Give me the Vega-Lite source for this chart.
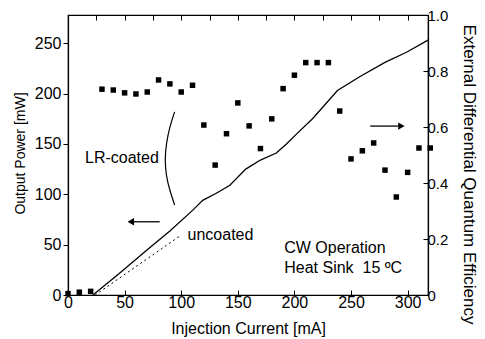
{
  "$schema": "https://vega.github.io/schema/vega-lite/v6.json",
  "width": 360,
  "height": 280,
  "autosize": {"type": "none"},
  "padding": {"left": 68, "top": 15, "right": 57, "bottom": 44},
  "background": "white",
  "config": {
    "font": "Liberation Sans",
    "view": {"stroke": "black", "strokeWidth": 1.2},
    "axis": {"domainColor": "black", "domainWidth": 1.2, "tickColor": "black", "labelColor": "black", "titleColor": "black", "grid": false, "titleFontWeight": "normal", "labelFont": "Liberation Sans", "titleFont": "Liberation Sans"}
  },
  "datasets": {
    "power": [
      {"mA": 22, "mW": 0}, {"mA": 45, "mW": 21}, {"mA": 70, "mW": 45}, {"mA": 90, "mW": 63.5},
      {"mA": 110, "mW": 84}, {"mA": 119, "mW": 94}, {"mA": 131, "mW": 101}, {"mA": 143, "mW": 109},
      {"mA": 157, "mW": 125}, {"mA": 170, "mW": 134}, {"mA": 184, "mW": 141}, {"mA": 193, "mW": 150},
      {"mA": 202, "mW": 160}, {"mA": 216, "mW": 175}, {"mA": 238, "mW": 203}, {"mA": 258, "mW": 217},
      {"mA": 280, "mW": 231}, {"mA": 299, "mW": 241}, {"mA": 318, "mW": 253}
    ],
    "uncoated": [{"mA": 24, "mW": 0}, {"mA": 100, "mW": 59.5}],
    "arc": [
      {"i": 0, "mA": 94.2, "mW": 181.8}, {"i": 1, "mA": 89.8, "mW": 167}, {"i": 2, "mA": 86.8, "mW": 150.5},
      {"i": 3, "mA": 85.5, "mW": 134}, {"i": 4, "mA": 86.8, "mW": 118}, {"i": 5, "mA": 89.8, "mW": 104.2},
      {"i": 6, "mA": 94.2, "mW": 89.3}
    ],
    "arrows": [
      {"seg": "left", "mA": 81, "mW": 72.7}, {"seg": "left", "mA": 56, "mW": 72.7},
      {"seg": "right", "mA": 267, "mW": 167.7}, {"seg": "right", "mA": 292, "mW": 167.7}
    ],
    "heads": [
      {"dir": "triangle-left", "mA": 55.5, "mW": 72.7},
      {"dir": "triangle-right", "mA": 294.5, "mW": 167.7}
    ],
    "labels": [
      {"label": "LR-coated", "mA": 15, "mW": 136},
      {"label": "uncoated", "mA": 105.6, "mW": 59.5},
      {"label": "CW Operation", "mA": 191, "mW": 46.3},
      {"label": "Heat Sink\u00a0 15 ºC", "mA": 191, "mW": 26.5}
    ],
    "eff": [
      {"mA": 0, "eff": 0.005}, {"mA": 10, "eff": 0.01}, {"mA": 20, "eff": 0.013},
      {"mA": 30, "eff": 0.735}, {"mA": 40, "eff": 0.732}, {"mA": 50, "eff": 0.722}, {"mA": 60, "eff": 0.718},
      {"mA": 70, "eff": 0.725}, {"mA": 80, "eff": 0.768}, {"mA": 90, "eff": 0.754}, {"mA": 100, "eff": 0.725},
      {"mA": 110, "eff": 0.749}, {"mA": 120, "eff": 0.607}, {"mA": 130, "eff": 0.464}, {"mA": 140, "eff": 0.576},
      {"mA": 150, "eff": 0.686}, {"mA": 160, "eff": 0.604}, {"mA": 170, "eff": 0.523}, {"mA": 180, "eff": 0.629},
      {"mA": 190, "eff": 0.737}, {"mA": 200, "eff": 0.785}, {"mA": 210, "eff": 0.83}, {"mA": 220, "eff": 0.83},
      {"mA": 230, "eff": 0.83}, {"mA": 240, "eff": 0.657}, {"mA": 250, "eff": 0.486}, {"mA": 260, "eff": 0.515},
      {"mA": 270, "eff": 0.543}, {"mA": 280, "eff": 0.446}, {"mA": 290, "eff": 0.35}, {"mA": 300, "eff": 0.438},
      {"mA": 310, "eff": 0.525}, {"mA": 320, "eff": 0.525}
    ]
  },
  "layer": [
    {
      "layer": [
        {
          "data": {"name": "power"},
          "mark": {"type": "line", "color": "black", "strokeWidth": 1.3},
          "encoding": {
            "x": {"field": "mA", "type": "quantitative", "scale": {"domain": [0, 318], "nice": false},
              "axis": {"orient": "bottom", "values": [0, 50, 100, 150, 200, 250, 300], "tickSize": -5, "labelPadding": 4, "labelFontSize": 16, "labelFlush": false,
                "title": "Injection Current [mA]", "titleFontSize": 16, "titleX": 180, "titleY": 33, "titleBaseline": "middle"}},
            "y": {"field": "mW", "type": "quantitative", "scale": {"domain": [0, 278], "nice": false},
              "axis": {"orient": "left", "values": [0, 50, 100, 150, 200, 250], "tickSize": 5, "labelPadding": 2, "labelFontSize": 16, "labelFlush": false,
                "title": "Output Power [mW]", "titleFontSize": 14, "titleX": -48, "titleY": 138, "titleBaseline": "middle", "titleAngle": -90}}
          }
        },
        {
          "data": {"name": "uncoated"},
          "mark": {"type": "line", "color": "black", "strokeWidth": 1, "strokeDash": [2, 3]},
          "encoding": {"x": {"field": "mA", "type": "quantitative"}, "y": {"field": "mW", "type": "quantitative"}}
        },
        {
          "data": {"name": "arc"},
          "mark": {"type": "line", "color": "black", "strokeWidth": 1.2, "interpolate": "basis"},
          "encoding": {"x": {"field": "mA", "type": "quantitative"}, "y": {"field": "mW", "type": "quantitative"}, "order": {"field": "i", "type": "quantitative"}}
        },
        {
          "data": {"name": "arrows"},
          "mark": {"type": "line", "color": "black", "strokeWidth": 1.3},
          "encoding": {"x": {"field": "mA", "type": "quantitative"}, "y": {"field": "mW", "type": "quantitative"}, "detail": {"field": "seg"}}
        },
        {
          "data": {"name": "heads"},
          "mark": {"type": "point", "filled": true, "color": "black", "opacity": 1, "size": 55},
          "encoding": {"x": {"field": "mA", "type": "quantitative"}, "y": {"field": "mW", "type": "quantitative"},
            "shape": {"field": "dir", "type": "nominal", "scale": {"domain": ["triangle-left", "triangle-right"], "range": ["triangle-left", "triangle-right"]}, "legend": null}}
        },
        {
          "data": {"name": "labels"},
          "mark": {"type": "text", "align": "left", "baseline": "middle", "fontSize": 16, "color": "black", "font": "Liberation Sans"},
          "encoding": {"x": {"field": "mA", "type": "quantitative"}, "y": {"field": "mW", "type": "quantitative"}, "text": {"field": "label"}}
        }
      ]
    },
    {
      "data": {"name": "eff"},
      "mark": {"type": "square", "color": "black", "opacity": 1, "size": 30},
      "encoding": {
        "x": {"field": "mA", "type": "quantitative", "scale": {"domain": [0, 318], "nice": false},
          "axis": {"orient": "top", "values": [0, 25, 50, 75, 100, 125, 150, 175, 200, 225, 250, 275, 300], "labels": false, "tickSize": -5, "title": null}},
        "y": {"field": "eff", "type": "quantitative", "scale": {"domain": [0, 1], "nice": false},
          "axis": {"orient": "right", "values": [0, 0.2, 0.4, 0.6, 0.8, 1.0], "tickSize": -5, "labelPadding": 4, "labelFontSize": 15, "labelFlush": false,
            "labelExpr": "datum.value == 0 ? '0' : format(datum.value, '.1f')",
            "title": "External Differential Quantum Efficiency", "titleFontSize": 17, "titleAngle": 90, "titleX": 40, "titleY": 159, "titleBaseline": "middle"}}
      }
    }
  ],
  "resolve": {"scale": {"x": "independent", "y": "independent"}}
}
